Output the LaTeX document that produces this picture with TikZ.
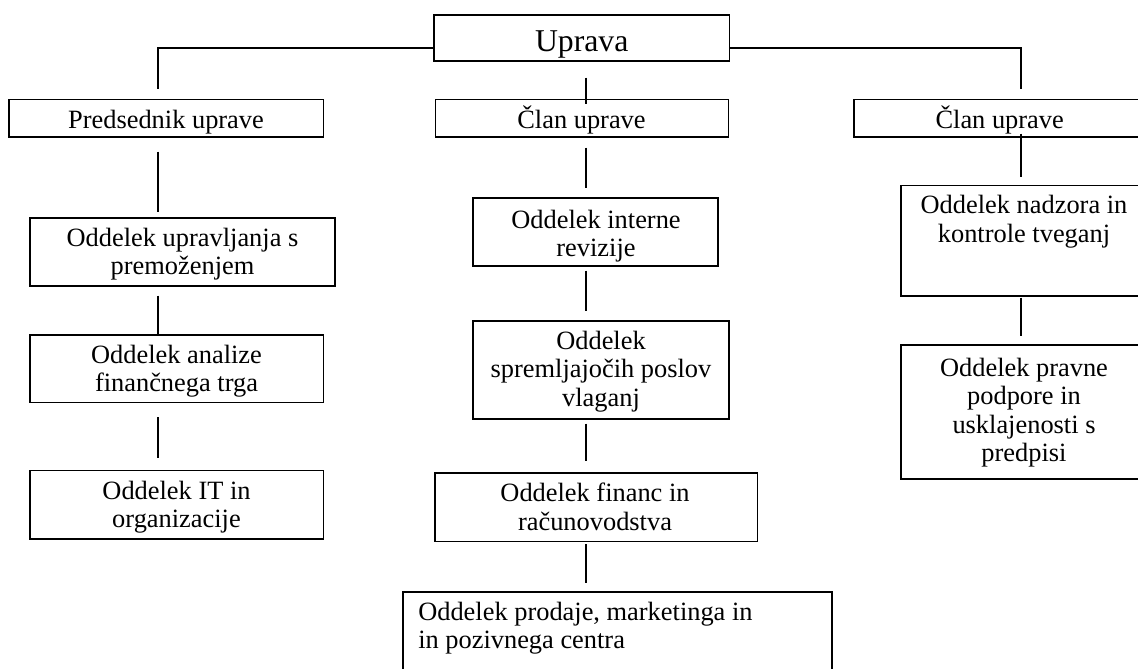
\documentclass[tikz,border=0pt]{standalone}
\usepackage{fontspec}
\setmainfont{Liberation Serif}
\usetikzlibrary{calc,fit}
\newcommand{\mlines}[2][c]{\begin{tabular}[t]{@{}#1@{}}#2\end{tabular}}
\begin{document}
\begin{tikzpicture}[x=0.75pt,y=-0.75pt,
  box/.style={draw, line width=1pt, inner sep=0pt},
  conn/.style={line width=0.8pt},
  txt/.style={inner sep=0pt, anchor=base, font=\fontsize{19.8pt}{21.4pt}\selectfont},
  bigtxt/.style={inner sep=0pt, anchor=base, font=\fontsize{23.8pt}{26pt}\selectfont}]
\useasboundingbox (0,0) rectangle (1138,668);
\fill[white] (0,0) rectangle (1138,668);
% column axes
\coordinate (colL) at (158,0);
\coordinate (colM) at (586,0);
\coordinate (colR) at (1021,0);
% boxes
\node[box, fit={(434,15) (729.5,61)}] (upr) {};
\node[box, fit={(9,99.3) (323.6,137)}] (pred) {};
\node[box, fit={(435.7,99.3) (728.5,137)}] (clanM) {};
\node[box, fit={(854,99.3) (1145,137)}] (clanR) {};
\node[box, fit={(30,218) (335,286)}] (uprav) {};
\node[box, fit={(30,335) (323.3,402.7)}] (anal) {};
\node[box, fit={(30,470.7) (323.3,539)}] (it) {};
\node[box, fit={(473,198) (718,266)}] (intr) {};
\node[box, fit={(473,321) (729,419)}] (sprem) {};
\node[box, fit={(435,473) (757.5,541.7)}] (fin) {};
\node[box, fit={(403,592) (832,680)}] (prod) {};
\node[box, fit={(901,185.5) (1147,296)}] (nadz) {};
\node[box, fit={(901,345) (1147,479)}] (prav) {};
% texts
\node[bigtxt] (t-upr) at (581.75,51.7) {Uprava};
\node[txt] (t-pred) at (166,128.3) {Predsednik uprave};
\node[txt] (t-clanM) at (581.5,128.3) {Član uprave};
\node[txt] (t-clanR) at (999.7,128.3) {Član uprave};
\node[txt] (t-uprav) at (182.5,246) {\mlines{Oddelek upravljanja s\\premoženjem}};
\node[txt] (t-anal) at (176.5,363) {\mlines{Oddelek analize\\finančnega trga}};
\node[txt] (t-it) at (176.5,499) {\mlines{Oddelek IT in\\organizacije}};
\node[txt] (t-intr) at (596,228) {\mlines{Oddelek interne\\revizije}};
\node[txt] (t-sprem) at (601,349) {\mlines{Oddelek\\spremljajočih poslov\\vlaganj}};
\node[txt] (t-fin) at (595,501.5) {\mlines{Oddelek financ in\\računovodstva}};
\node[txt, anchor=base west] (t-prod) at (418,620) {\mlines[l]{Oddelek prodaje, marketinga in\\in pozivnega centra}};
\node[txt] (t-nadz) at (1024,213.5) {\mlines{Oddelek nadzora in\\kontrole tveganj}};
\node[txt] (t-prav) at (1024,376) {\mlines{Oddelek pravne\\podpore in\\usklajenosti s\\predpisi}};
% connectors
\draw[conn] ($(upr.west)+(0,10)$) -| ($(pred.north -| colL)+(0,-10)$);
\draw[conn] ($(upr.east)+(0,10)$) -| ($(clanR.north -| colR)+(0,-10)$);
\draw[conn] ($(upr.south -| colM)+(0,16)$) -- ($(clanM.north -| colM)+(0,5.7)$);
\draw[conn] ($(pred.south -| colL)+(0,14)$) -- ($(uprav.north -| colL)+(0,-5)$);
\draw[conn] ($(uprav.south -| colL)+(0,9)$) -- ($(anal.north -| colL)+(0,2)$);
\draw[conn] ($(anal.south -| colL)+(0,14)$) -- ($(it.north -| colL)+(0,-12)$);
\draw[conn] ($(clanM.south -| colM)+(0,10)$) -- ($(intr.north -| colM)+(0,-9)$);
\draw[conn] ($(intr.south -| colM)+(0,4)$) -- ($(sprem.north -| colM)+(0,-9)$);
\draw[conn] ($(sprem.south -| colM)+(0,4)$) -- ($(fin.north -| colM)+(0,-11)$);
\draw[conn] ($(fin.south -| colM)+(0,2)$) -- ($(prod.north -| colM)+(0,-8)$);
\draw[conn] ($(clanR.south -| colR)+(0,-4)$) -- ($(nadz.north -| colR)+(0,-8)$);
\draw[conn] ($(nadz.south -| colR)+(0,1)$) -- ($(prav.north -| colR)+(0,-8)$);
\end{tikzpicture}
\end{document}
